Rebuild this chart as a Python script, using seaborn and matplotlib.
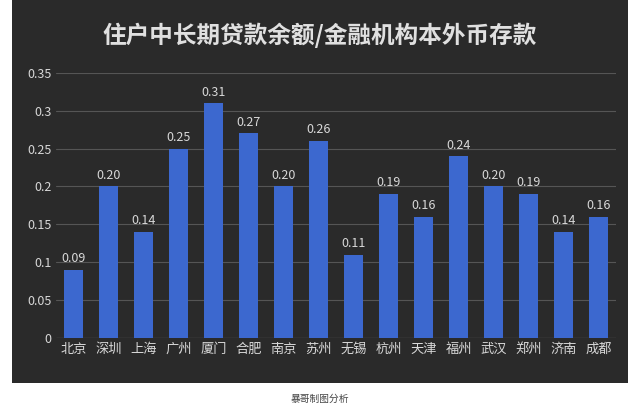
import matplotlib
matplotlib.use("Agg")
import matplotlib.pyplot as plt
import seaborn as sns
import pandas as pd
from matplotlib.patches import Rectangle

cities = ["北京","深圳","上海","广州","厦门","合肥","南京","苏州","无锡","杭州","天津","福州","武汉","郑州","济南","成都"]
values = [0.09,0.20,0.14,0.25,0.31,0.27,0.20,0.26,0.11,0.19,0.16,0.24,0.20,0.19,0.14,0.16]
yticks = [0,0.05,0.1,0.15,0.2,0.25,0.3,0.35]
ytick_labels = ["0","0.05","0.1","0.15","0.2","0.25","0.3","0.35"]

sns.set_theme(style="dark")
plt.rcParams['font.family'] = ['Noto Sans CJK SC', 'DejaVu Sans']

fig = plt.figure(figsize=(6.4, 4.09), dpi=100)
fig.patch.set_facecolor("white")
fig.patches.append(Rectangle((12/640, 1-383/409), 616/640, 383/409, transform=fig.transFigure,
                             facecolor="#2a2a2a", edgecolor="none", zorder=-5))
ax = fig.add_axes([0.088, 0.174, 0.875, 0.648])
ax.set_facecolor("none")
ax.set_zorder(2)
df = pd.DataFrame({"city": cities, "v": values})
sns.barplot(data=df, x="city", y="v", color="#3c68cf", saturation=1, width=0.55,
            linewidth=0, ax=ax, zorder=3)
for i, v in enumerate(values):
    ax.text(i, v + 0.006, f"{v:.2f}", ha="center", va="bottom", color="#d8d8d8", fontsize=9)
ax.set_ylim(0, 0.35)
ax.set_yticks(yticks)
ax.set_yticklabels(ytick_labels, color="#d8d8d8", fontsize=9)
ax.tick_params(axis="x", colors="#d8d8d8", labelsize=9.5, length=0)
ax.tick_params(axis="y", length=0)
ax.yaxis.grid(True, color="#555555", linewidth=0.8, zorder=0)
ax.xaxis.grid(False)
for s in ax.spines.values():
    s.set_visible(False)
ax.axhline(0, color="#888888", linewidth=0.8)
ax.set_xlabel(""); ax.set_ylabel("")
fig.text(0.5, 1-35/409, "住户中长期贷款余额/金融机构本外币存款", ha="center", va="center",
         color="#e0e0e0", fontsize=17, fontweight="bold")
fig.text(0.5, 1-399/409, "暴哥制图分析", ha="center", va="center", color="#444444", fontsize=7)
fig.savefig("out.png", dpi=100)
